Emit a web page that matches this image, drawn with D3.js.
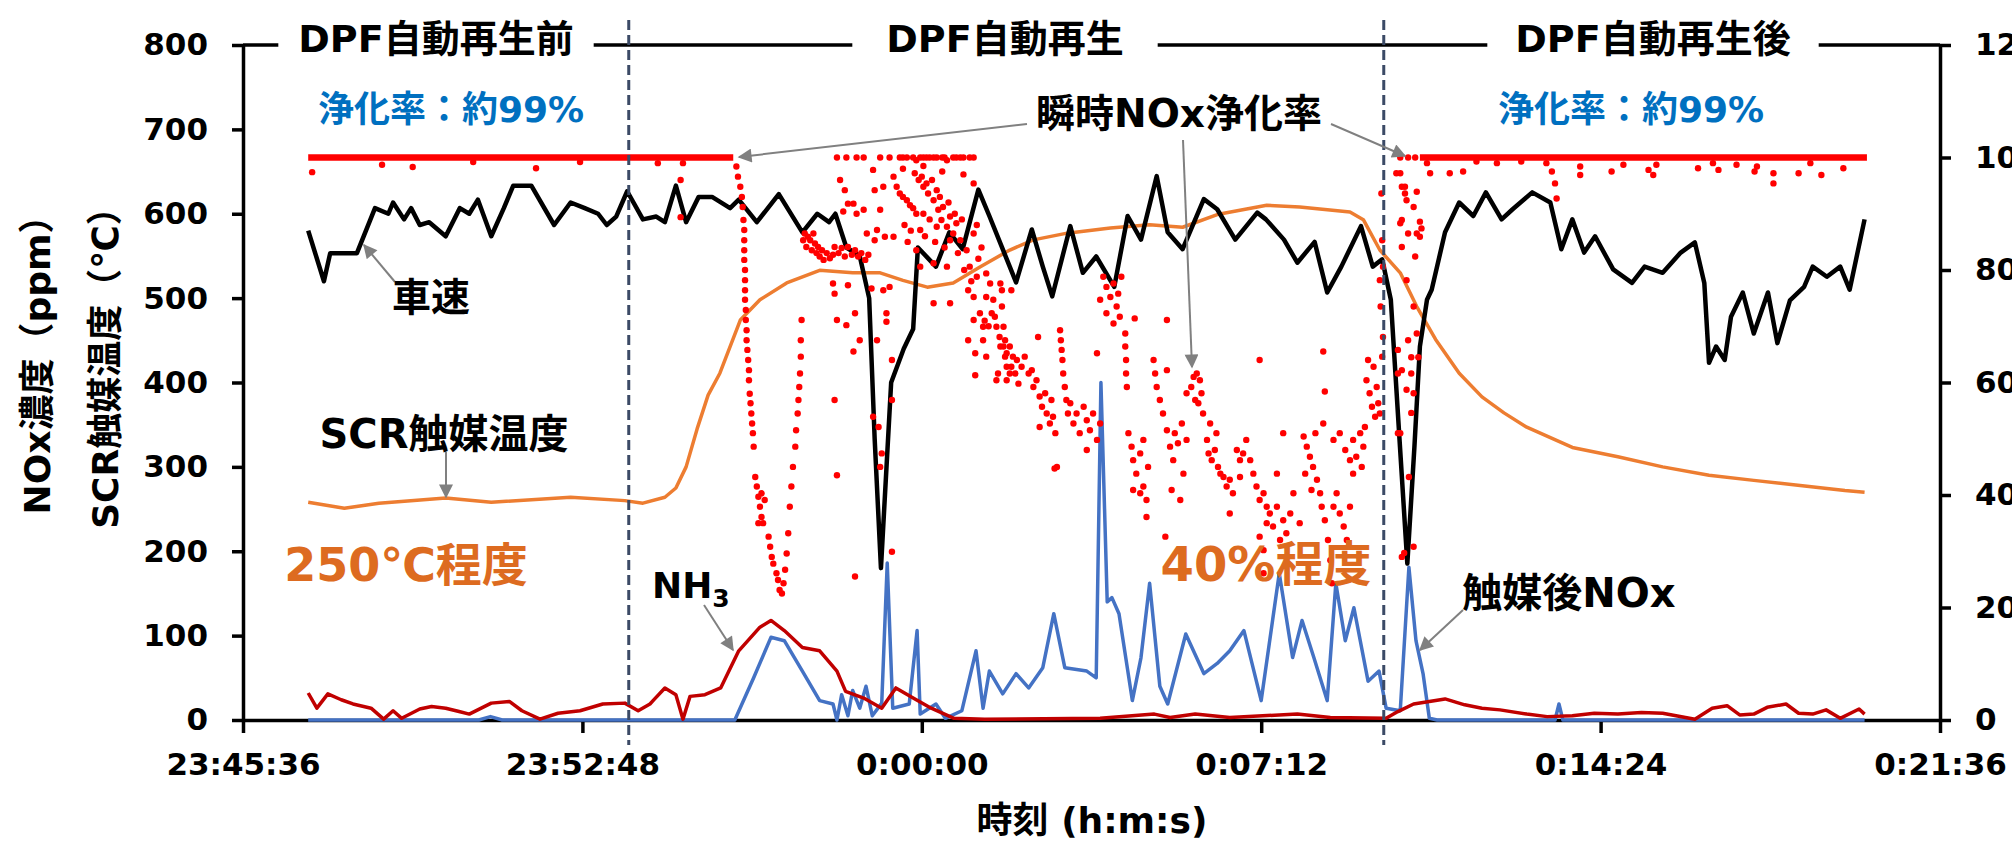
<!DOCTYPE html>
<html>
<head>
<meta charset="utf-8">
<script src="https://cdn.jsdelivr.net/npm/d3@7"></script>
<style>
  body { margin: 0; background: #fff; overflow: hidden; }
  svg text { font-family: "DejaVu Sans", "Noto Sans CJK JP", sans-serif; font-weight: bold; }
</style>
</head>
<body>
<div id="chart"></div>
<script>
// Chart area
var svgWidth = 2012;
var svgHeight = 846;
var margin = {top: 45, right: 72, bottom: 126, left: 243};
var width = svgWidth - margin.left - margin.right;
var height = svgHeight - margin.top - margin.bottom;

// ---- data, time in seconds after 23:45:36 ----
var xTickSec = [0, 432, 864, 1296, 1728, 2160];
var leftTicks = [0, 100, 200, 300, 400, 500, 600, 700, 800];
var rightTicks = [0, 20, 40, 60, 80, 100, 120];
var phaseSec = [491, 1452];
var phaseNames = ["DPF自動再生前", "DPF自動再生", "DPF自動再生後"];

// 車速 (km/h, right axis)
var speed = [[83,87],[103,78],[111,83],[145,83],[168,91],[185,90],[191,92],[205,89],[214,91],[225,88],
  [237,88.5],[258,86],[276,91],[288,90],[299,92.5],[316,86],[332,91],[344,95],[367,95],[396,88],
  [417,92],[435,91],[452,90],[463,88],[475,89.5],[489,94],[509,89],[526,89.5],[537,88.5],[551,95],
  [564,88.5],[580,93],[597,93],[620,91],[631,92.5],[654,88.5],[682,93.5],[712,86.7],[731,90],[746,88.5],
  [754,90],[768,84],[785,82.5],[797,75],[804,50],[812,27],[825,60],[841,66],[853,69.5],[859,84],
  [882,80.6],[899,86.7],[916,83.7],[936,94.3],[950,89.6],[967,83.7],[984,77.8],[1004,87.2],[1018,80.6],[1030,75.3],
  [1053,87.8],[1069,79.5],[1086,82.4],[1109,77],[1126,89.6],[1143,85.4],[1163,96.7],[1177,86.7],[1196,83.7],[1223,92.6],
  [1240,90.8],[1263,85.4],[1291,90.2],[1302,89],[1325,85.4],[1342,81.3],[1364,85],[1380,76],[1398,80.6],[1423,87.8],
  [1438,80.6],[1450,81.9],[1461,74.7],[1472,50],[1482,27.8],[1491,48.5],[1498,66.4],[1507,74.7],[1513,76.5],[1530,86.7],
  [1548,92],[1566,89.6],[1582,93.8],[1602,89],[1616,90.8],[1641,93.8],[1664,92],[1678,83.7],[1692,89],[1707,83.1],
  [1721,86],[1744,80.1],[1768,77.7],[1784,80.6],[1807,79.5],[1830,83.1],[1848,84.9],[1860,77.7],[1866,63.5],[1875,66.4],
  [1886,64],[1894,71.7],[1909,76],[1923,68.7],[1941,76],[1953,67],[1969,74.6],[1987,77],[1998,80.6],[2016,78.8],
  [2033,80.6],[2045,76.5],[2064,89]];

// SCR触媒温度 (℃, left axis)
var scrTemp = [[83,258],[129,251],[173,257],[258,263],[316,258],[417,264],[486,260],[509,257],[537,264],[551,275],
  [564,300],[578,345],[592,385],[607,411],[633,474],[658,498],[692,518],[734,533],[776,530],[811,530],
  [840,521],[871,513],[904,518],[938,537],[976,557],[1006,569],[1049,577],[1104,583],[1154,587],[1196,584],
  [1240,599],[1303,610],[1345,608],[1409,602],[1426,593],[1447,557],[1473,530],[1494,490],[1518,451],[1548,411],
  [1577,383],[1605,364],[1634,347],[1692,323],[1750,312],[1807,300],[1866,290],[1923,284],[1982,278],[2039,272],
  [2064,270]];

// NH3 (ppm, left axis)
var nh3 = [[83,32],[94,14],[108,31],[125,24],[140,19],[163,14],[179,1],[191,11],[202,2],[225,13],
  [240,16],[258,14],[275,10],[288,7],[316,20],[339,22],[355,11],[378,1],[401,8],[429,11],
  [458,19],[486,20],[503,11],[518,19],[524,25],[537,38],[551,30],[560,1],[569,28],[588,30],
  [608,38],[631,82],[658,110],[672,118],[689,106],[712,86],[734,82],[756,58],[767,34],[790,26],
  [813,14],[831,38],[853,26],[876,14],[905,2],[944,1],[1091,2],[1160,7],[1180,3],[1212,7],
  [1256,3],[1342,7],[1384,3],[1455,2],[1470,10],[1490,19],[1510,22],[1530,25],[1555,18],[1577,14],
  [1600,12],[1634,7],[1660,4],[1692,5],[1720,8],[1750,7],[1780,9],[1807,8],[1848,1],[1870,14],
  [1889,17],[1905,6],[1923,7],[1940,15],[1964,19],[1980,8],[1998,7],[2015,12],[2033,2],[2057,13],
  [2064,7]];

// 触媒後NOx (ppm, left axis)
var noxOut = [[83,0],[300,0],[315,4],[330,0],[626,0],[650,50],[672,98],[689,94],[712,58],[734,23],
  [751,19],[756,0],[762,30],[770,5],[776,35],[785,14],[793,40],[801,5],[813,20],[820,186],
  [827,14],[848,19],[858,106],[862,7],[882,19],[894,2],[915,11],[933,82],[942,14],[950,58],
  [967,31],[984,55],[1000,38],[1018,62],[1032,126],[1046,62],[1074,58],[1086,50],[1092,400],[1100,140],
  [1106,145],[1115,126],[1132,23],[1143,74],[1154,162],[1167,40],[1177,19],[1200,102],[1223,55],[1240,67],
  [1256,82],[1274,106],[1296,23],[1319,174],[1336,74],[1348,118],[1363,74],[1380,23],[1391,162],[1403,94],
  [1414,133],[1432,46],[1446,58],[1455,14],[1473,11],[1484,181],[1493,94],[1502,55],[1510,2],[1520,0],
  [1670,0],[1675,19],[1680,0],[2064,0]];

// 瞬時NOx浄化率 (%, right axis): runs at 100 % and single points
var rateRuns = [[[83,100],[624,100]], [[1498,100],[2067,100]]];
var rateDots = [[88,97.4],[177,98.7],[216,98.3],[293,99.2],[373,98.1],[429,99.2],[528,99],[557,96],[557,89.4],[560,99],
  [628,98.4],[630,96.6],[633,94.8],[635,93],[636,91.2],[637,88.9],[638,87.1],[638,85.3],[638,83.5],[638,81.8],
  [639,80],[639,78.2],[639,76.4],[639,74.7],[640,72.9],[640,71.1],[641,69.3],[641,67.5],[642,65.8],[643,64],
  [644,62.2],[644,60.4],[645,58],[646,56.3],[647,54.5],[648,52.7],[649,51],[650,48.6],[652,43.2],[654,41.5],
  [656,39.7],[658,37.9],[660,36.1],[662,35],[664,39.1],[660,40.3],[656,35],[669,32.6],[671,30.8],[673,29],
  [675,27.8],[679,26.1],[681,24.9],[683,23.1],[686,22.5],[688,24.3],[690,26.7],[692,29.6],[694,33.2],[696,37.9],
  [698,41.5],[700,45],[703,48.6],[704,51.5],[706,54.5],[707,56.9],[708,59.2],[709,61.6],[710,64.6],[710,67.5],
  [711,71.1],[713,85.3],[715,86.5],[717,84.1],[719,85.9],[722,85.3],[724,83.5],[726,86.5],[728,84.7],[730,83],
  [732,84.1],[734,82.4],[737,83.5],[739,81.8],[743,83],[747,82.1],[751,82.7],[753,84.1],[758,83],[762,83.9],
  [766,82.4],[770,84.1],[775,82.7],[779,83.5],[783,82.4],[787,83],[792,81.8],[796,82.7],
  [756,100],[768,100],[781,100],[790,100],[811,100],[823,100],[760,96],[766,94.2],[764,90.4],[770,91.8],
  [777,91.8],[781,90],[790,90.7],[802,97.8],[804,94.2],[815,94.8],[811,90.7],[807,87.1],[817,85.9],[828,85.9],
  [804,85.3],[794,86.5],[751,77.6],[753,75.8],[756,71.1],[770,77.3],[779,72.3],[768,70.2],[785,67.5],[777,65.5],
  [800,76.7],[815,76.4],[823,77],[819,72.3],[819,70.8],[807,67.5],[826,64],[753,56.9],[756,43.5],[802,53.9],
  [809,52.1],[813,47.4],[811,45],[826,56.9],[826,29.9],[779,25.5],
  [828,96.6],[832,94.8],[836,93.6],[840,93],[845,92.4],[849,91.5],[853,91],[857,90],
  [855,97.2],[860,96],[864,96.6],[866,94.8],[870,95.4],[872,93.6],[877,96],[879,92.4],[883,94.2],[885,90.7],
  [887,93],[889,88.9],[891,91.2],[896,87.7],[900,89.5],[904,86.5],[908,88.3],[913,85.3],[900,85.3],[883,87.7],
  [862,87.1],[857,99.5],[853,100],[883,100],[904,100],[930,100],[930,95.4],[896,99.5],[870,100],
  [836,100],[840,100],[845,100],[862,100],[866,100],[874,100],[879,100],[890,100],[893,100],[908,100],
  [913,100],[917,100],[925,100],[840,98],[866,98.5],[890,97.5],[917,97],
  [842,88],[846,85],[850,87],[866,90],[868,86],[874,89],[881,85],[893,84],[898,92],[906,90],
  [910,83],[915,89],[918,80],[927,78],[936,82],[940,84],[944,71],[949,70],[934,88],
  [879,74.1],[900,74.1],[862,80.6],[879,81.2],[896,80.6],[857,83.5],
  [921,83.5],[925,80.6],[923,76.4],[930,75.2],[934,78.8],[938,72.3],[942,69.9],[930,71.1],[923,67.5],[932,65.2],
  [942,67.5],[946,64.6],[946,75.2],[951,77.6],[955,74.7],[957,71.7],[959,69.9],[963,68.1],[968,66.4],[970,64.6],
  [972,62.8],[976,61.6],[961,61.6],[959,60.4],[932,61.3],[930,86.5],[946,79.4],[966,76.4],[953,72.3],
  [964,77.6],[966,73.5],[968,69.9],[970,67.5],[972,65.2],[976,66.4],[978,62.8],[980,64.6],[983,61.6],[985,64],
  [987,59.8],[964,66.4],[972,60.4],[978,76.4],[991,62.8],[995,64.6],[1000,61.6],[1004,62.2],[1006,59.2],[1010,60.4],
  [1014,57.5],[1017,55.7],[1021,58.1],[1023,54.5],[1027,52.7],[1031,53.9],[1034,51],[1012,68.1],[1014,52.1],[1036,45],
  [1029,56.9],[1033,44.7],[1040,69.3],[1041,67.5],[1042,65.8],[1043,64],[1044,61.6],[1046,59.2],[1048,56.9],[1050,54.5],
  [1053,56.3],[1057,52.7],[1061,54.5],[1065,51],[1070,55.7],[1074,53.3],[1078,51.5],[1082,54.5],[1087,49.8],[1091,52.7],
  [1087,65.2],[1074,48],[1095,78.8],[1099,77],[1104,75.2],[1108,77.6],[1112,73.5],[1114,75.8],[1116,71.7],[1118,78.8],
  [1099,72.3],[1108,70.5],[1091,74.7],[1135,71.4],[1123,68.7],[1123,66.4],[1124,64],[1124,61.6],[1125,59.2],
  [1127,51],[1131,48.6],[1133,46.2],[1137,43.8],[1142,47.4],[1146,41.5],[1150,39.1],[1152,45],[1142,40.3],[1133,40.9],
  [1150,36.1],[1146,49.8],[1159,64],[1161,61.6],[1163,59.2],[1167,56.9],[1171,54.5],[1176,62.2],[1174,32.6],[1176,71.1],
  [1176,51.5],[1180,48.6],[1184,46.2],[1186,51],[1190,49.2],[1195,52.7],[1197,43.8],[1201,49.8],[1182,40.9],[1193,39.1],
  [1201,58.1],[1207,59.2],[1210,61],[1214,61.6],[1218,60.4],[1220,58.1],[1216,56.3],[1212,56.9],[1222,54.5],
  [1227,49.8],[1229,47.4],[1233,46.2],[1237,48],[1241,45],[1244,43.8],[1248,43.2],[1252,41.5],[1256,42.7],[1260,40.3],
  [1239,51],[1231,52.7],[1265,48],[1269,46.2],[1273,47.4],[1277,49.8],[1282,46.2],[1286,43.8],[1290,41.5],[1294,39.1],
  [1299,40.3],[1303,37.9],[1256,36.7],[1269,43.2],[1294,64],[1299,26.1],
  [1303,35],[1307,36.7],[1311,34.4],[1316,37.9],[1320,32],[1324,35.5],[1328,33.2],[1333,36.7],[1337,40.3],[1294,32.6],
  [1299,30.2],[1324,51],[1316,43.8],[1350,50.4],[1354,48.6],[1358,46.8],[1362,45],[1367,42.7],[1371,40.3],[1352,43.8],
  [1360,40.9],[1345,35],[1365,51],[1373,37.9],[1377,35.5],[1381,32],[1384,28.4],[1386,24.3],[1388,37.9],[1392,40.3],
  [1396,36.7],[1401,34.4],[1405,32],[1409,37.9],[1375,52.7],[1388,49.8],[1375,65.5],[1377,58.4],
  [1396,51],[1403,48],[1409,46.2],[1413,49.8],[1417,46.8],[1422,51],[1426,48.6],[1428,52.1],[1424,45],[1413,43.8],
  [1430,60.4],[1434,58.1],[1437,55.7],[1439,62.8],[1443,59.2],[1445,56.3],[1447,54.5],[1450,64.6],[1441,53.9],[1432,64],
  [1449,93.6],[1450,85.3],[1447,78.2],[1448,73.5],[1451,80.6],[1451,68.1],
  [1468,97.2],[1473,88.3],[1475,84.1],[1479,94.8],[1481,78.2],[1483,67.5],[1487,61.6],[1490,58.1],[1470,61.6],[1473,51],
  [1475,29],[1494,86.5],[1492,82.4],[1490,73.5],[1494,68.7],[1470,65.8],[1475,62.2],[1481,58.7],[1487,54.6],[1484,43.2],
  [1470,51],[1478,29.7],[1487,64.5],[1496,64.5],[1490,30.8],
  [1473,97.2],[1475,94.8],[1479,93.6],[1481,92.4],[1490,91.2],[1494,93.9],[1475,88.9],[1498,88.6],[1500,87.4],[1483,86.5],
  [1498,85.9],[1473,100],[1483,100],[1492,100],
  [1507,99],[1511,97.2],[1536,97.2],[1553,97.5],[1570,99.3],[1596,99],[1627,99.3],[1659,99],[1666,97.5],[1670,95.4],
  [1672,92.7],[1702,98.4],[1702,96.9],[1742,97.5],[1757,98.7],[1789,97.8],[1795,96.9],[1799,98.7],[1852,98.1],[1871,99],
  [1878,97.8],[1901,98.7],[1924,97.5],[1927,98.4],[1948,97.2],[1948,95.4],[1980,97.2],[1995,99],[2009,96.9],[2037,98.1]];

// Append SVG
var svg = d3.select("#chart")
  .append("svg")
  .attr("width", svgWidth)
  .attr("height", svgHeight);

var chartGroup = svg.append("g")
  .attr("transform", `translate(${margin.left}, ${margin.top})`);

// scales
var t0 = new Date(2000, 0, 1, 23, 45, 36);
function toTime(s) { return new Date(t0.getTime() + s * 1000); }

var xTimeScale = d3.scaleTime()
  .domain([toTime(0), toTime(2160)])
  .range([0, width]);

var yLeftScale = d3.scaleLinear()
  .domain([0, 800])
  .range([height, 0]);

var yRightScale = d3.scaleLinear()
  .domain([0, 120])
  .range([height, 0]);

// axes
var bottomAxis = d3.axisBottom(xTimeScale)
  .tickValues(xTickSec.map(toTime))
  .tickFormat(d3.timeFormat("%-H:%M:%S"))
  .tickSize(13).tickSizeOuter(0).tickPadding(20);
var leftAxis = d3.axisLeft(yLeftScale)
  .tickValues(leftTicks).tickSize(11).tickSizeOuter(0).tickPadding(24);
var rightAxis = d3.axisRight(yRightScale)
  .tickValues(rightTicks).tickSize(11).tickSizeOuter(0).tickPadding(24);

function styleAxis(g) {
  g.attr("font-family", null).attr("font-size", null);
  g.select(".domain").attr("stroke", "#000").attr("stroke-width", 3.5);
  g.selectAll(".tick line").attr("stroke", "#000").attr("stroke-width", 3.5);
  g.selectAll(".tick text").attr("fill", "#000").style("font-size", "31px");
}

chartGroup.append("g").attr("transform", `translate(0, ${height})`).call(bottomAxis).call(styleAxis);
chartGroup.append("g").call(leftAxis).call(styleAxis);
chartGroup.append("g").attr("transform", `translate(${width}, 0)`).call(rightAxis).call(styleAxis);

// top phase line at 800
chartGroup.append("line")
  .attr("x1", 0).attr("x2", width)
  .attr("y1", yLeftScale(800)).attr("y2", yLeftScale(800))
  .attr("stroke", "#000").attr("stroke-width", 3.5);

// line generators
var leftLine = d3.line()
  .x(d => xTimeScale(toTime(d[0])))
  .y(d => yLeftScale(d[1]));
var rightLine = d3.line()
  .x(d => xTimeScale(toTime(d[0])))
  .y(d => yRightScale(d[1]));

chartGroup.append("path").datum(noxOut)
  .attr("d", leftLine).attr("fill", "none")
  .attr("stroke", "#4472C4").attr("stroke-width", 3.5).attr("stroke-linejoin", "round");

chartGroup.append("path").datum(nh3)
  .attr("d", leftLine).attr("fill", "none")
  .attr("stroke", "#C00000").attr("stroke-width", 3.5).attr("stroke-linejoin", "round");

chartGroup.append("path").datum(scrTemp)
  .attr("d", leftLine).attr("fill", "none")
  .attr("stroke", "#ED7D31").attr("stroke-width", 3.5).attr("stroke-linejoin", "round");

chartGroup.append("path").datum(speed)
  .attr("d", rightLine).attr("fill", "none")
  .attr("stroke", "#000").attr("stroke-width", 4.5).attr("stroke-linejoin", "round");

// rate of NOx reduction
chartGroup.selectAll(".rateRun")
  .data(rateRuns)
  .enter()
  .append("path")
  .attr("class", "rateRun")
  .attr("d", rightLine)
  .attr("fill", "none")
  .attr("stroke", "#FF0000").attr("stroke-width", 6.5);

chartGroup.selectAll(".rateDot")
  .data(rateDots)
  .enter()
  .append("circle")
  .attr("class", "rateDot")
  .attr("cx", d => xTimeScale(toTime(d[0])))
  .attr("cy", d => yRightScale(d[1]))
  .attr("r", 3.2)
  .attr("fill", "#FF0000");

// phase boundaries
chartGroup.selectAll(".phase")
  .data(phaseSec)
  .enter()
  .append("line")
  .attr("class", "phase")
  .attr("x1", d => xTimeScale(toTime(d)))
  .attr("x2", d => xTimeScale(toTime(d)))
  .attr("y1", -25).attr("y2", height + 25)
  .attr("stroke", "#3B4A66").attr("stroke-width", 3)
  .attr("stroke-dasharray", "10,5");

// phase titles over the top line
var phaseLabels = [
  {text: phaseNames[0], x: 436, pad: 20},
  {text: phaseNames[1], x: 1005, pad: 34},
  {text: phaseNames[2], x: 1653, pad: 28}
];
phaseLabels.forEach(function(p) {
  var t = svg.append("text")
    .attr("x", p.x).attr("y", 52)
    .attr("text-anchor", "middle")
    .style("font-size", "38px")
    .text(p.text);
  var b = t.node().getBBox();
  svg.insert("rect", function() { return t.node(); })
    .attr("x", b.x - p.pad).attr("y", 30)
    .attr("width", b.width + 2 * p.pad).attr("height", 28)
    .attr("fill", "#fff");
});

// arrows
svg.append("defs").append("marker")
  .attr("id", "arrowHead")
  .attr("viewBox", "0 0 10 10")
  .attr("refX", 9).attr("refY", 5)
  .attr("markerWidth", 8).attr("markerHeight", 7)
  .attr("orient", "auto")
  .append("path")
  .attr("d", "M0,0 L10,5 L0,10 z")
  .attr("fill", "#808080");

var arrows = [
  [395, 282, 364, 245],
  [446, 452, 446, 497],
  [704, 605, 733, 650],
  [1027, 124, 739, 157],
  [1183, 140, 1192, 367],
  [1331, 124, 1405, 156],
  [1463, 610, 1420, 650]
];
svg.selectAll(".arrow")
  .data(arrows)
  .enter()
  .append("line")
  .attr("class", "arrow")
  .attr("x1", d => d[0]).attr("y1", d => d[1])
  .attr("x2", d => d[2]).attr("y2", d => d[3])
  .attr("stroke", "#808080").attr("stroke-width", 2)
  .attr("marker-end", "url(#arrowHead)");

// annotation texts
function note(txt, x, y, size, color) {
  return svg.append("text")
    .attr("x", x).attr("y", y)
    .attr("text-anchor", "middle")
    .attr("fill", color || "#000")
    .style("font-size", size + "px")
    .text(txt);
}
note("浄化率：約99%", 451, 122, 36, "#0070C0");
note("浄化率：約99%", 1631, 122, 36, "#0070C0");
note("瞬時NOx浄化率", 1179, 127, 39);
note("車速", 431, 311, 39);
note("SCR触媒温度", 444, 448, 40);
note("250℃程度", 406, 581, 46, "#DD6B20");
note("40%程度", 1266, 581, 48, "#DD6B20");
note("触媒後NOx", 1569, 607, 40);

var nh3Label = svg.append("text")
  .attr("x", 652).attr("y", 598)
  .style("font-size", "36px")
  .text("NH");
nh3Label.append("tspan")
  .attr("dy", 9)
  .style("font-size", "25px")
  .text("3");

// axis titles
svg.append("text")
  .attr("x", 1092).attr("y", 833)
  .attr("text-anchor", "middle")
  .style("font-size", "36px")
  .text("時刻 (h:m:s)");

svg.append("text")
  .attr("transform", "translate(37, 356) rotate(-90)")
  .attr("text-anchor", "middle")
  .attr("dy", "0.35em")
  .style("font-size", "36px")
  .text("NOx濃度（ppm）");

svg.append("text")
  .attr("transform", "translate(105, 359) rotate(-90)")
  .attr("text-anchor", "middle")
  .attr("dy", "0.35em")
  .style("font-size", "36px")
  .text("SCR触媒温度（℃）");
</script>
</body>
</html>
